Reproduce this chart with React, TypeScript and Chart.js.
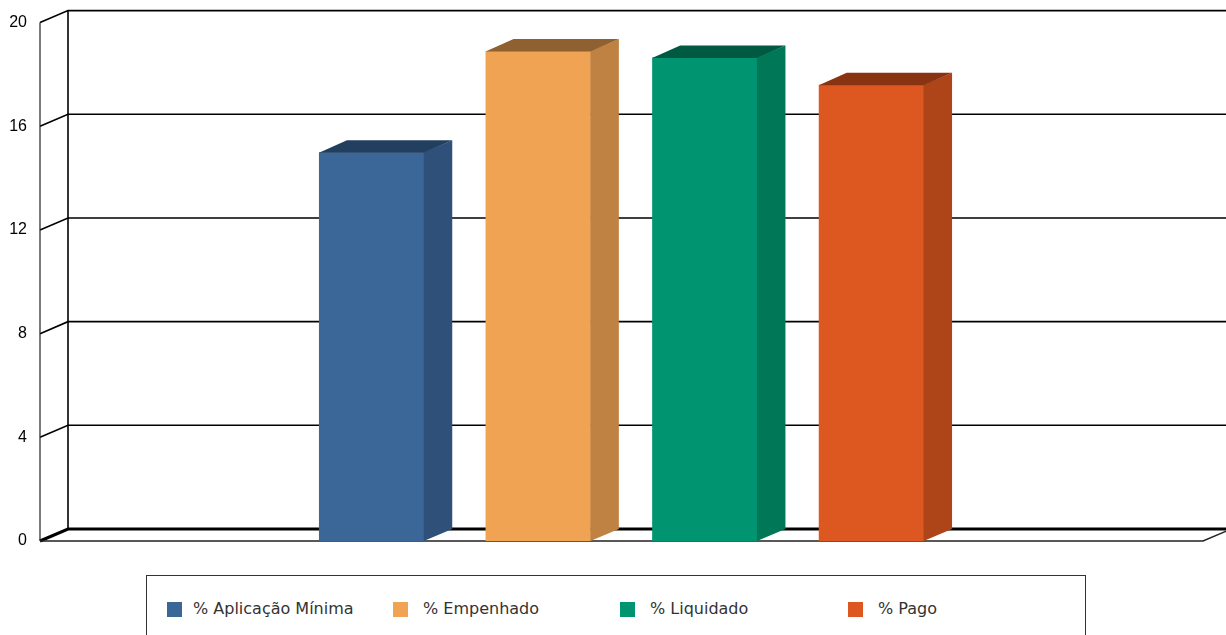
import React, { useEffect, useRef } from 'react';
import { Chart, registerables } from 'chart.js';

Chart.register(...registerables);

const categories = ['Percentuais'];
const seriesLabels = ['% Aplicação Mínima', '% Empenhado', '% Liquidado', '% Pago'];
const seriesValues = [15.0, 18.9, 18.65, 17.6];
const yTickValues = [0, 4, 8, 12, 16, 20];

const frontColors = ['#3B6698', '#EFA353', '#009470', '#DC5820'];
const sideColors = ['#2F5079', '#BF8242', '#007858', '#AE4519'];
const topColors = ['#233F60', '#8F6030', '#005A42', '#883312'];

const DX = 28;
const DY = -12;

const threeDPlugin = {
  id: 'threeD',
  beforeDatasetsDraw(chart: any) {
    const { ctx, chartArea: a, scales } = chart;
    const y = scales.y;
    const W = chart.width;
    ctx.save();
    ctx.strokeStyle = '#000';
    ctx.lineJoin = 'miter';
    yTickValues.forEach((v) => {
      const py = y.getPixelForValue(v);
      ctx.beginPath();
      ctx.moveTo(a.left, py);
      ctx.lineTo(a.left + DX, py + DY);
      ctx.lineTo(W + 5, py + DY);
      ctx.lineWidth = v === 0 ? 3 : 1.6;
      ctx.stroke();
    });
    const yTop = y.getPixelForValue(yTickValues[yTickValues.length - 1]);
    const yBot = y.getPixelForValue(yTickValues[0]);
    ctx.lineWidth = 1.6;
    ctx.beginPath();
    ctx.moveTo(a.left + DX, yTop + DY);
    ctx.lineTo(a.left + DX, yBot + DY);
    ctx.stroke();
    ctx.lineWidth = 1.2;
    ctx.strokeStyle = '#222';
    ctx.beginPath();
    ctx.moveTo(a.left, yTop);
    ctx.lineTo(a.left, yBot);
    ctx.stroke();
    ctx.lineWidth = 1.4;
    ctx.beginPath();
    ctx.moveTo(a.left, yBot);
    ctx.lineTo(a.right, yBot);
    ctx.lineTo(a.right + DX, yBot + DY);
    ctx.stroke();
    ctx.restore();
  },
  afterDatasetsDraw(chart: any) {
    const { ctx } = chart;
    ctx.save();
    chart.data.datasets.forEach((ds: any, i: number) => {
      const meta = chart.getDatasetMeta(i);
      meta.data.forEach((bar: any) => {
        const p = bar.getProps(['x', 'y', 'base', 'width'], true);
        const l = p.x - p.width / 2;
        const r = p.x + p.width / 2;
        const top = p.y;
        const base = p.base;
        ctx.fillStyle = sideColors[i];
        ctx.beginPath();
        ctx.moveTo(r - 0.5, top);
        ctx.lineTo(r + DX, top + DY);
        ctx.lineTo(r + DX, base + DY);
        ctx.lineTo(r - 0.5, base);
        ctx.closePath();
        ctx.fill();
        ctx.fillStyle = topColors[i];
        ctx.beginPath();
        ctx.moveTo(l, top + 0.5);
        ctx.lineTo(l + DX, top + DY);
        ctx.lineTo(r + DX, top + DY);
        ctx.lineTo(r - 0.5, top + 0.5);
        ctx.closePath();
        ctx.fill();
      });
    });
    ctx.restore();
  },
};

export default function App() {
  const ref = useRef<HTMLCanvasElement | null>(null);

  useEffect(() => {
    if (!ref.current) return;
    const chart = new Chart(ref.current, {
      type: 'bar',
      data: {
        labels: categories,
        datasets: seriesLabels.map((label, i) => ({
          label,
          data: [seriesValues[i]],
          backgroundColor: frontColors[i],
          borderWidth: 0,
          categoryPercentage: 0.573,
          barPercentage: 0.632,
        })),
      },
      options: {
        responsive: false,
        animation: false,
        devicePixelRatio: 1,
        layout: { padding: { left: 0, top: 22, right: 23, bottom: 24 } },
        plugins: {
          legend: { display: false },
          tooltip: { enabled: false },
        },
        scales: {
          x: { display: false },
          y: {
            min: yTickValues[0],
            max: yTickValues[yTickValues.length - 1],
            grid: { display: false, drawTicks: false },
            border: { display: false },
            afterFit: (scale: any) => {
              scale.width = 40;
            },
            ticks: {
              stepSize: 4,
              padding: 13,
              color: '#000',
              font: { family: 'Liberation Sans', size: 16 },
            },
          },
        },
      },
      plugins: [threeDPlugin],
    } as any);
    return () => chart.destroy();
  }, []);

  const legendPos = [
    { box: 167, text: 193 },
    { box: 393, text: 423 },
    { box: 620, text: 650 },
    { box: 848, text: 878 },
  ];

  return (
    <div style={{ position: 'fixed', left: 0, top: 0, width: 1226, height: 635, overflow: 'hidden', background: '#fff' }}>
      <canvas ref={ref} width={1226} height={565} style={{ position: 'absolute', left: 0, top: 0 }} />
      <div
        style={{
          position: 'absolute',
          left: 146,
          top: 575,
          width: 940,
          height: 90,
          border: '1.5px solid #333',
          boxSizing: 'border-box',
        }}
      />
      {seriesLabels.map((label, i) => (
        <React.Fragment key={label}>
          <div
            style={{
              position: 'absolute',
              left: legendPos[i].box,
              top: 602,
              width: 15,
              height: 15,
              background: frontColors[i],
            }}
          />
          <div
            style={{
              position: 'absolute',
              left: legendPos[i].text,
              top: 599,
              fontFamily: 'DejaVu Sans',
              fontSize: 16,
              lineHeight: '20px',
              color: '#333',
              whiteSpace: 'nowrap',
            }}
          >
            {label}
          </div>
        </React.Fragment>
      ))}
    </div>
  );
}
